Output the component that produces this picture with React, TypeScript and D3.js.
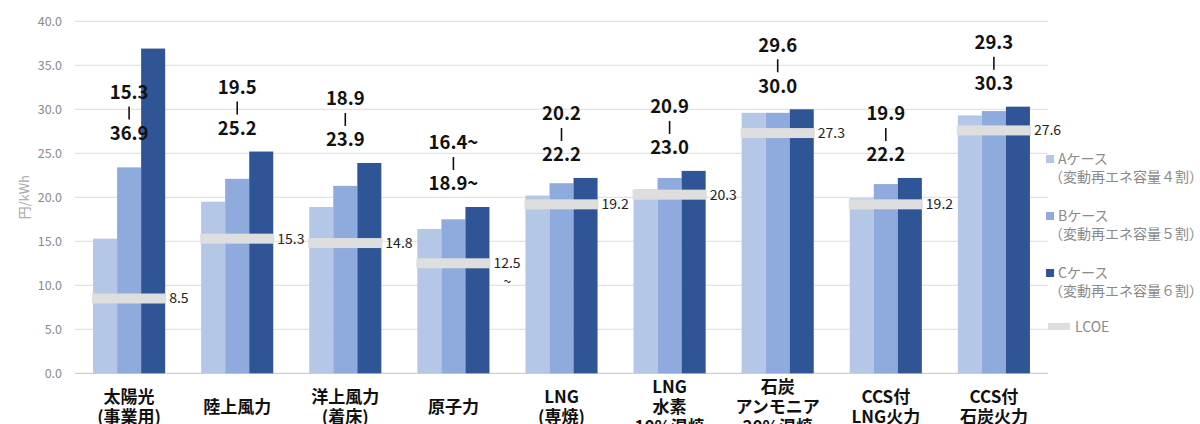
import React, { useEffect } from 'react';
import * as d3 from 'd3';

const categories = [
  '太陽光\n(事業用)',
  '陸上風力',
  '洋上風力\n(着床)',
  '原子力',
  'LNG\n(専焼)',
  'LNG\n水素\n10%混焼',
  '石炭\nアンモニア\n20%混焼',
  'CCS付\nLNG火力',
  'CCS付\n石炭火力',
];

const caseA = [15.3, 19.5, 18.9, 16.4, 20.2, 20.9, 29.6, 19.9, 29.3];
const caseB = [23.4, 22.1, 21.3, 17.5, 21.6, 22.2, 29.6, 21.5, 29.8];
const caseC = [36.9, 25.2, 23.9, 18.9, 22.2, 23.0, 30.0, 22.2, 30.3];
const lcoe = [8.5, 15.3, 14.8, 12.5, 19.2, 20.3, 27.3, 19.2, 27.6];
// range labels shown above each group (low | high)
const rangeLow = ['15.3', '19.5', '18.9', '16.4~', '20.2', '20.9', '29.6', '19.9', '29.3'];
const rangeHigh = ['36.9', '25.2', '23.9', '18.9~', '22.2', '23.0', '30.0', '22.2', '30.3'];
const lcoeSuffix = ['', '', '', '~', '', '', '', '', ''];

const yTicks = [0, 5, 10, 15, 20, 25, 30, 35, 40];
const seriesKeys = ['A', 'B', 'C'];
const seriesNames = ['Aケース', 'Bケース', 'Cケース'];
const seriesNotes = ['（変動再エネ容量４割）', '（変動再エネ容量５割）', '（変動再エネ容量６割）'];
const seriesColors = ['#b4c7e7', '#8faadc', '#2f5597'];

const FONT = '"Noto Sans CJK JP", "Noto Sans", sans-serif';

export default function App() {
  useEffect(() => {
    document.body.style.margin = '0';
  }, []);

  const width = 1200;
  const height = 424;
  const plot = { left: 75, right: 1048, top: 21.3, bottom: 373.3 };

  const x = d3.scaleBand<string>()
    .domain(categories)
    .range([plot.left, plot.right])
    .paddingInner(0.333)
    .paddingOuter(0.167);
  const xi = d3.scaleBand<string>()
    .domain(seriesKeys)
    .range([0, x.bandwidth()]);
  const y = d3.scaleLinear().domain([0, 40]).range([plot.bottom, plot.top]);

  const series = [caseA, caseB, caseC];

  return (
    <svg width={width} height={height} style={{ display: 'block', background: '#fff' }} fontFamily={FONT}>
      {/* grid + y ticks */}
      {yTicks.map(t => (
        <g key={t}>
          <line x1={plot.left} x2={plot.right} y1={y(t)} y2={y(t)} stroke={t === 0 ? '#d0d0d0' : '#e3e3e3'} strokeWidth={1.2} />
          <text x={62} y={y(t)} dy="0.35em" textAnchor="end" fontSize={12.5} fill="#8a8a8a">
            {d3.format('.1f')(t)}
          </text>
        </g>
      ))}
      <text transform={`translate(24,${(plot.top + plot.bottom) / 2}) rotate(-90)`} textAnchor="middle" dy="0.35em" fontSize={13} fill="#a6a6a6">
        円/kWh
      </text>

      {/* bars */}
      {categories.map((c, i) => (
        <g key={c} transform={`translate(${x(c)},0)`}>
          {seriesKeys.map((k, j) => (
            <rect key={k} x={xi(k)} width={xi.bandwidth()} y={y(series[j][i])} height={y(0) - y(series[j][i])} fill={seriesColors[j]} />
          ))}
        </g>
      ))}

      {/* LCOE markers */}
      {categories.map((c, i) => {
        const x0 = (x(c) as number) - 1;
        const x1 = (x(c) as number) + x.bandwidth() + 1;
        return (
          <g key={'l' + c}>
            <rect x={x0} width={x1 - x0} y={y(lcoe[i]) - 5} height={10} fill="#dedede" />
            <text x={x1 + 3} y={y(lcoe[i])} dy="0.35em" fontSize={14} fill="#222">
              {d3.format('.1f')(lcoe[i])}
            </text>
            {lcoeSuffix[i] && (
              <text x={x1 + 17} y={y(lcoe[i]) + 19} dy="0.35em" textAnchor="middle" fontSize={14} fill="#222">
                {lcoeSuffix[i]}
              </text>
            )}
          </g>
        );
      })}

      {/* range labels */}
      {categories.map((c, i) => {
        const cx = (x(c) as number) + x.bandwidth() / 2;
        const top = Math.max(...series.map(s => s[i]));
        // very tall groups get their label beside the bar, level with the next group
        const base = top > 35 ? y(caseC[1]) - 18 : y(top) - 23;
        return (
          <g key={'r' + c} fontWeight="bold" fontSize={18.5} fill="#111" textAnchor="middle">
            <text x={cx} y={base - 41} dy="0.35em">{rangeLow[i]}</text>
            <line x1={cx} x2={cx} y1={base - 27} y2={base - 14} stroke="#111" strokeWidth={1.6} />
            <text x={cx} y={base} dy="0.35em">{rangeHigh[i]}</text>
          </g>
        );
      })}

      {/* x labels */}
      {categories.map(c => {
        const lines = c.split('\n');
        const cx = (x(c) as number) + x.bandwidth() / 2;
        return (
          <text key={'x' + c} x={cx} textAnchor="middle" fontWeight="bold" fontSize={17} fill="#111">
            {lines.map((ln, k) => (
              <tspan key={k} x={cx} y={407 + (k - (lines.length - 1) / 2) * 20} dy="0.35em">{ln}</tspan>
            ))}
          </text>
        );
      })}

      {/* legend */}
      {seriesKeys.map((k, j) => {
        const ly = 159 + j * 57;
        return (
          <g key={'lg' + k} fontSize={14} fill="#8a8a8a">
            <rect x={1046} y={ly - 4} width={8} height={8} fill={seriesColors[j]} />
            <text x={1058} y={ly} dy="0.35em">{seriesNames[j]}</text>
            <text x={1049} y={ly + 18} dy="0.35em">{seriesNotes[j]}</text>
          </g>
        );
      })}
      <rect x={1048} y={323} width={22} height={7} fill="#dedede" />
      <text x={1075} y={327} dy="0.35em" fontSize={14} fill="#8a8a8a">LCOE</text>
    </svg>
  );
}
